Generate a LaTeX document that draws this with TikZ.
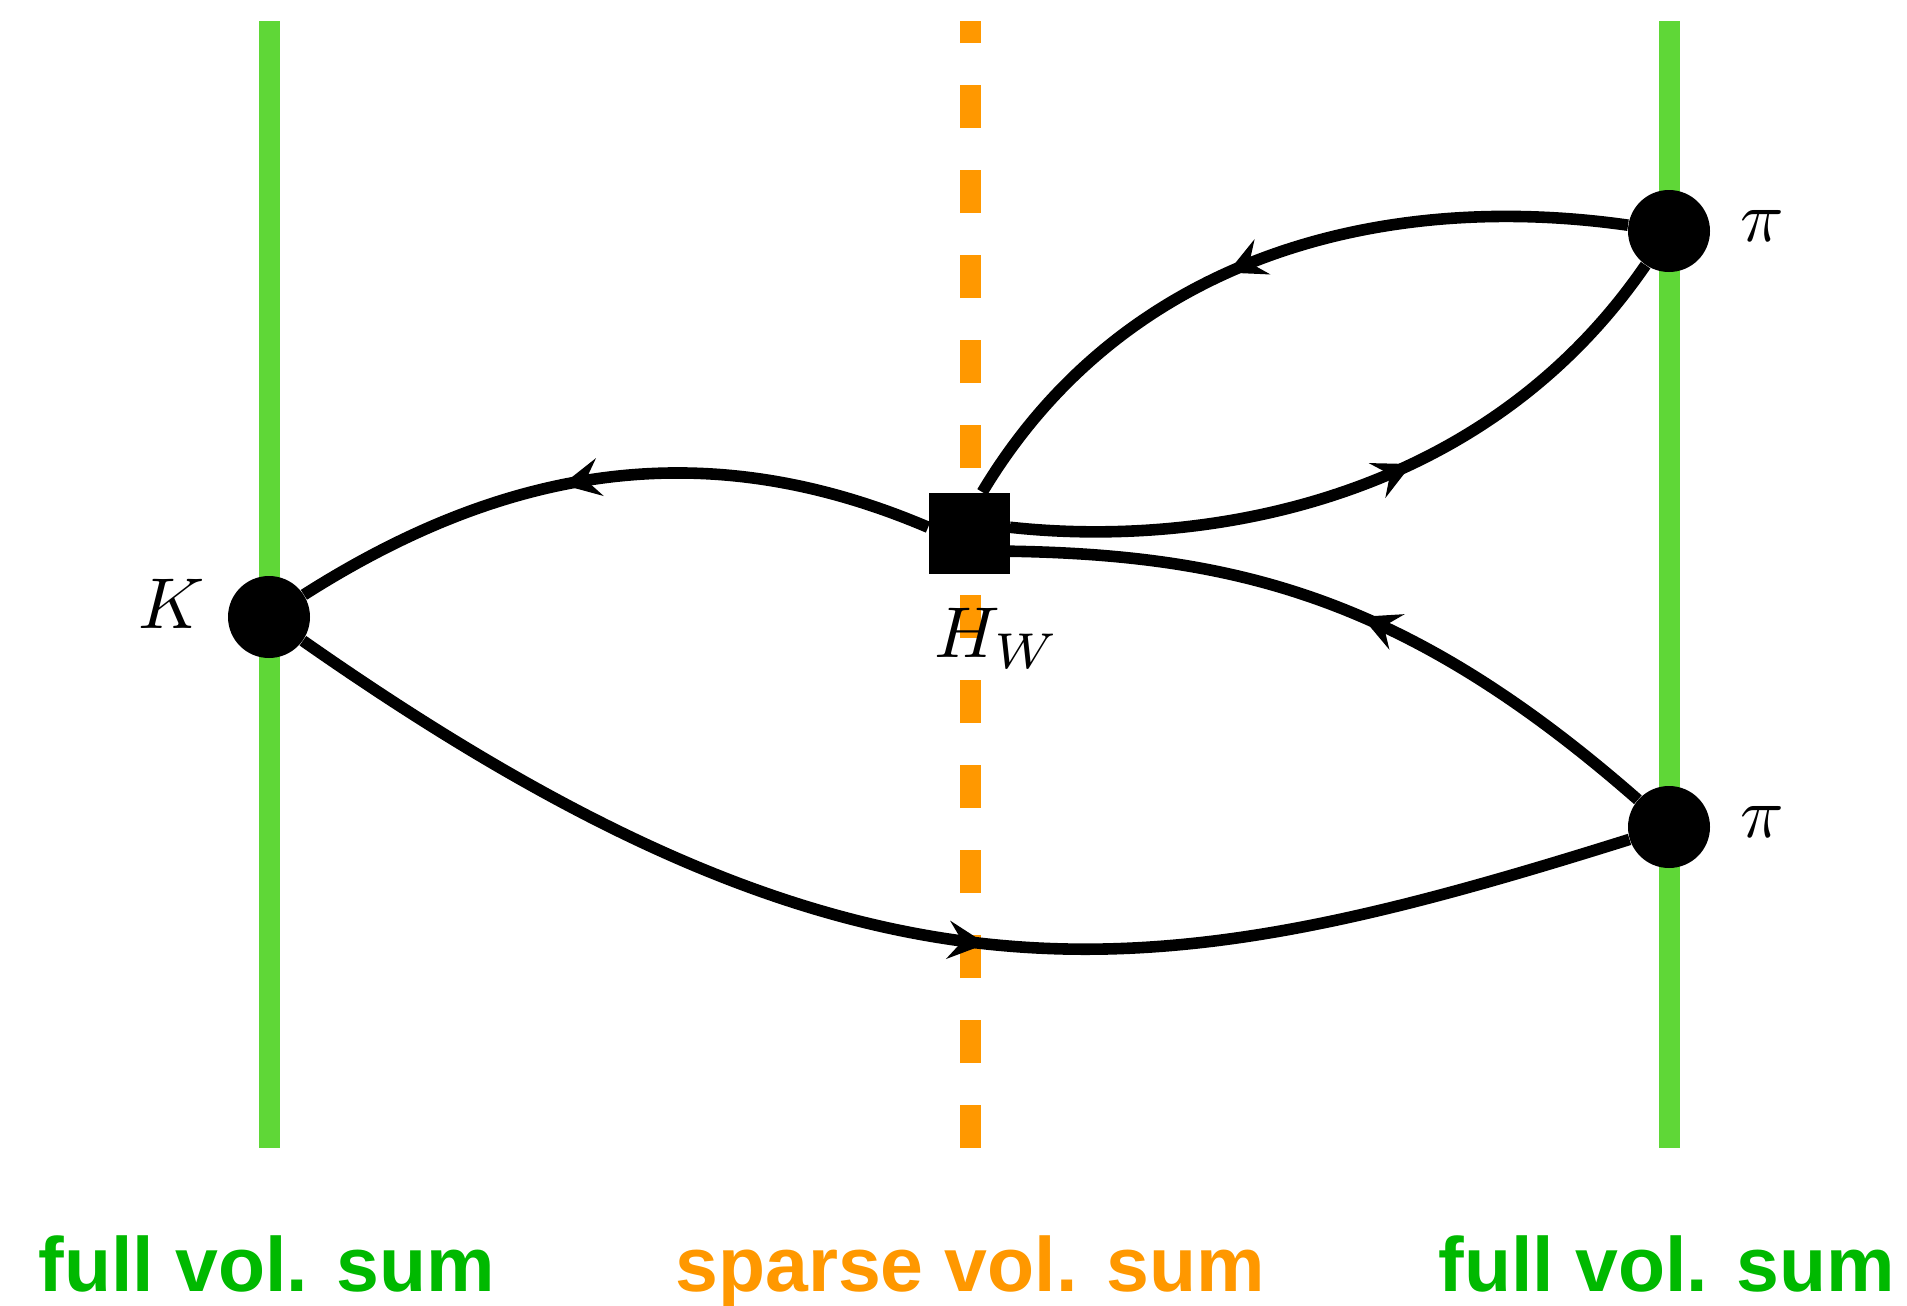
\documentclass[tikz,border=0pt]{standalone}
\usepackage{fontspec}
\setsansfont{Liberation Sans}
\usepackage{xcolor}
\usetikzlibrary{arrows.meta,decorations.markings}
\definecolor{linegreen}{RGB}{95,215,55}
\definecolor{textgreen}{RGB}{0,185,0}
\definecolor{sumorange}{RGB}{255,152,0}
\newcommand{\biglbl}[1]{\scalebox{3.6}{$#1$}}

\begin{document}
\begin{tikzpicture}[
  x=0.5pt, y=-0.5pt,
  vol/.style={line width=10.5pt, linegreen},
  sparse/.style={line width=10.5pt, sumorange, dash pattern=on 21.5pt off 21pt},
  dot/.style={circle, fill=black, minimum size=41pt, inner sep=0pt},
  op/.style={rectangle, fill=black, minimum size=40.5pt, inner sep=0pt},
  lbl/.style={inner sep=0pt},
  sumlbl/.style={anchor=base, inner sep=0pt, font=\sffamily\bfseries\fontsize{38.5}{42}\selectfont},
  prop/.style={line width=5.8pt, postaction={decorate},
               decoration={markings, mark=at position #1 with {\arrow{Stealth[length=19pt, width=19pt, inset=7pt]}}}}]
  \useasboundingbox (0,0) rectangle (1907,1306);
  % volume sums
  \draw[vol] (269,21) -- (269,1148);
  \draw[vol] (1669,21) -- (1669,1148);
  \draw[sparse] (970,1148) -- (970,21);
  % vertices
  \node[dot] (K) at (269,617) {};
  \node[dot] (piT) at (1669,231) {};
  \node[dot] (piB) at (1669,827) {};
  \node[op] (HW) at (969,533) {};
  \node[lbl] (Klab) at (172,604) {\biglbl{K}};
  \node[lbl] (piTlab) at (1762,226) {\biglbl{\pi}};
  \node[lbl] (piBlab) at (1762,822) {\biglbl{\pi}};
  \node[lbl, anchor=north west] (HWlab) at (934,608) {\biglbl{H_W}};
  % propagators
  \draw[prop=0.57] (HW.172) .. controls (700,430) and (500,470) .. (K);
  \draw[prop=0.535] (K) .. controls (869,1037) and (1149,990) .. (piB);
  \draw[prop=0.57] (HW.8) .. controls (1200,548) and (1481,505) .. (piT);
  \draw[prop=0.55] (piT) .. controls (1380,190) and (1123,257) .. (HW.72);
  \draw[prop=0.48] (piB) .. controls (1410,600) and (1240,555) .. (HW.-24);
  % labels
  \node[sumlbl, textgreen] (fullL) at (267,1291) {full vol. sum};
  \node[sumlbl, sumorange] (sparseM) at (970,1291) {sparse vol. sum};
  \node[sumlbl, textgreen] (fullR) at (1667,1291) {full vol. sum};
\end{tikzpicture}
\end{document}
